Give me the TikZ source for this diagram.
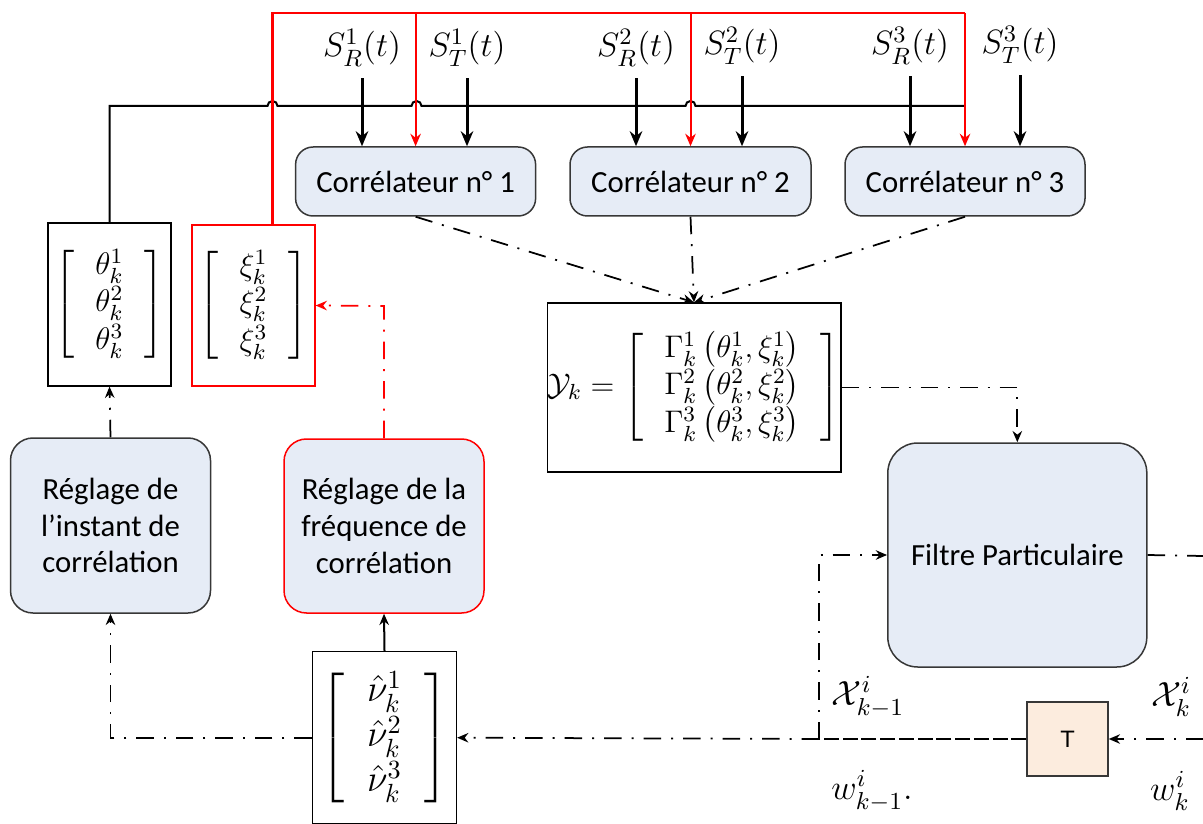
\documentclass[tikz,border=0pt]{standalone}
\usepackage{fix-cm}
\usepackage{amsmath}
\usepackage{fontspec}
\newfontfamily\carlito{Carlito}
\newfontfamily\arialf{Liberation Sans}
\usetikzlibrary{arrows.meta,calc}
\definecolor{boxblue}{RGB}{230,236,246}
\definecolor{peach}{RGB}{252,236,222}
\definecolor{bord}{RGB}{55,55,55}
\definecolor{myred}{RGB}{255,0,0}
\begin{document}
\begin{tikzpicture}[x=0.4pt,y=-0.4pt,
 rbox/.style={draw=bord,fill=boxblue,rounded corners=7pt,line width=0.6pt,
   font=\carlito\fontsize{12.3}{14.7}\selectfont,align=center,inner sep=0pt},
 mbox/.style={draw=black,line width=0.5pt,inner sep=0pt},
 lab/.style={inner sep=0pt,font=\fontsize{13.5}{16}\selectfont},
 dd/.style={line width=0.7pt,dash pattern=on 7pt off 4pt on 0.8pt off 4pt},
 sarr/.style={line width=1.2pt,-{Stealth[length=6pt,width=5pt]}},
 rarr/.style={myred,line width=0.8pt,-{Stealth[length=5pt,width=4.2pt]}},
 darr/.style={dd,-{Stealth[length=4.5pt,width=3.8pt]}},
]
\useasboundingbox (0,0) rectangle (1203,824);

% correlators
\node[rbox,minimum width=240*0.4pt,minimum height=69*0.4pt] (c1) at (415.6,181.5) {Corrélateur n° 1};
\node[rbox,minimum width=241*0.4pt,minimum height=69*0.4pt] (c2) at (690.5,181.5) {Corrélateur n° 2};
\node[rbox,minimum width=240*0.4pt,minimum height=69*0.4pt] (c3) at (965,181.5) {Corrélateur n° 3};

% signal labels
\node[lab] (sr1) at (362,48) {$S_R^1(t)$};
\node[lab] (st1) at (467,48) {$S_T^1(t)$};
\node[lab] (sr2) at (636,48) {$S_R^2(t)$};
\node[lab] (st2) at (742,46) {$S_T^2(t)$};
\node[lab] (sr3) at (910,46) {$S_R^3(t)$};
\node[lab] (st3) at (1020,45) {$S_T^3(t)$};

\foreach \s/\c in {sr1/c1,st1/c1,sr2/c2,st2/c2,sr3/c3,st3/c3}
  \draw[sarr] ([yshift=-4.5pt]\s.south) -- (\s.south |- \c.north);

% parameter vectors
\node[mbox,minimum width=123*0.4pt,minimum height=163*0.4pt,font=\fontsize{12.5}{15}\selectfont]
  (th) at (109.5,304.5) {$\left[\;\begin{array}{c}\theta_k^1\\ \theta_k^2\\ \theta_k^3\end{array}\;\right]$};
\node[draw=myred,line width=0.5pt,inner sep=0pt,minimum width=123*0.4pt,minimum height=161*0.4pt,font=\fontsize{12.5}{15}\selectfont]
  (xi) at (253.5,305.5) {$\left[\;\begin{array}{c}\xi_k^1\\ \xi_k^2\\ \xi_k^3\end{array}\;\right]$};

% measurement vector
\node[mbox,minimum width=282*0.4pt,minimum height=169*0.4pt,font=\fontsize{12.5}{15}\selectfont]
  (Y) at (694,387.5) {$\mathcal{Y}_k=\left[\;\begin{array}{c}
   \Gamma_k^1\left(\theta_k^1,\xi_k^1\right)\\
   \Gamma_k^2\left(\theta_k^2,\xi_k^2\right)\\
   \Gamma_k^3\left(\theta_k^3,\xi_k^3\right)\end{array}\;\right]$};

% tuning blocks
\node[rbox,rounded corners=9pt,minimum width=200*0.4pt,minimum height=175*0.4pt] (r1) at (110.5,525.5)
  {Réglage de\\l’instant de\\corrélation};
\node[rbox,draw=myred,rounded corners=9pt,minimum width=200*0.4pt,minimum height=174*0.4pt] (r2) at (384,526)
  {Réglage de la\\fréquence de\\corrélation};

% innovation vector
\node[mbox,minimum width=144*0.4pt,minimum height=172*0.4pt,font=\fontsize{15}{18}\selectfont]
  (nu) at (384.5,737.7) {$\left[\;\begin{array}{c}\hat{\nu}_k^1\\ \hat{\nu}_k^2\\ \hat{\nu}_k^3\end{array}\;\right]$};

% particle filter
\node[rbox,rounded corners=12pt,minimum width=259*0.4pt,minimum height=224*0.4pt] (F) at (1017.3,555)
  {Filtre Particulaire};

% delay
\node[draw=bord,fill=peach,line width=0.6pt,minimum width=81*0.4pt,minimum height=74*0.4pt,
  inner sep=0pt,font=\arialf\fontsize{9.5}{11}\selectfont] (T) at (1067.5,739) {T};

% state labels
\node[lab,font=\fontsize{14}{17}\selectfont] (xk1) at (868,697) {$\mathcal{X}_{k-1}^i$};
\node[lab,font=\fontsize{14}{17}\selectfont] (wk1) at (872,791) {$w_{k-1}^i.$};
\node[lab,font=\fontsize{14}{17}\selectfont] (xk) at (1171,697) {$\mathcal{X}_k^i$};
\node[lab,font=\fontsize{14}{17}\selectfont] (wk) at (1170,791) {$w_k^i$};

% coordinates
\coordinate (blkL) at (109.5,106);
\coordinate (blkR) at (965,106);
\coordinate (redL) at (272.5,13);
\coordinate (redR) at (965,13);
\coordinate (xiTop) at (272.5,225);
\coordinate (J) at (819,739);
\coordinate (outR) at (1203,556);
\coordinate (inR) at (1203,739);
\coordinate (r2bend) at (384,306);

% black distribution line with hops
\draw[line width=0.8pt] (th.north) -- (blkL) -- (267.5,106) arc (180:360:5)
  -- (411.5,106) arc (180:360:5) -- (685.5,106) arc (180:360:5) -- (blkR);

% red distribution line
\draw[myred,line width=1pt] (xiTop) -- (redL) -- (redR);
\draw[rarr] (redR) -- (c3.north);
\draw[rarr] (redL -| c1.north) -- (c1.north);
\draw[rarr] (redL -| c2.north) -- (c2.north);

% correlators to measurement
\draw[darr] (c1.south) -- (Y.north);
\draw[darr] (c2.south) -- (Y.north);
\draw[darr] (c3.south) -- (Y.north);

% measurement to filter
\draw[darr] (Y.east) -| (F.north);

% filter output
\draw[dd] (F.east) -- (outR);

% delay loop
\draw[darr] (inR) -- (T.east);
\draw[line width=0.7pt,dash pattern=on 6pt off 1.5pt] (T.west) -- (J);
\draw[darr] (J) |- (F.west);
\draw[darr] (J) -- (nu.east);

% innovation to tuning blocks
\draw[darr] (nu.west) -| (r1.south);
\draw[line width=0.8pt,-{Stealth[length=4.5pt,width=3.8pt]}] (nu.north) -- (r2.south);

% tuning to parameters
\draw[darr] (r1.north) -- (th.south);
\draw[darr,myred] (r2.north) -- (r2bend) -- (xi.east);
\end{tikzpicture}
\end{document}
